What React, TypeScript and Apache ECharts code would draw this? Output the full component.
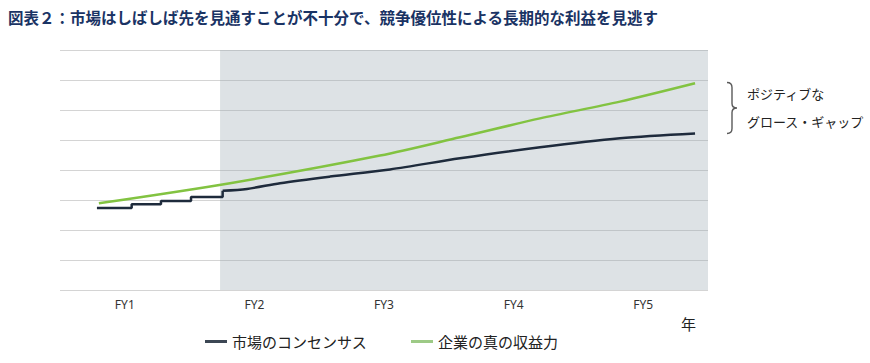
import React, { useEffect, useRef } from 'react';
import * as echarts from 'echarts';

const TITLE = '図表２：市場はしばしば先を見通すことが不十分で、競争優位性による長期的な利益を見逃す';
const categories = ['FY1', 'FY2', 'FY3', 'FY4', 'FY5'];
const seriesNames = ['市場のコンセンサス', '企業の真の収益力'];
const axisUnit = '年';
const noteLines = ['ポジティブな', 'グロース・ギャップ'];

// x in category units (0..5), y in grid units (0..8)
const consensusStepX = [0.285, 0.553, 0.553, 0.779, 0.779, 1.011, 1.011, 1.255, 1.255];
const consensusStepY = [2.73, 2.73, 2.86, 2.86, 2.97, 2.97, 3.1, 3.1, 3.31];
const consensusCurveX = [1.255, 1.443, 1.698, 2.083, 2.546, 3.086, 3.704, 4.321, 4.9];
const consensusCurveY = [3.31, 3.37, 3.56, 3.78, 4.02, 4.39, 4.76, 5.06, 5.22];
const earningsX = [0.3, 1.312, 2.469, 3.086, 3.704, 4.321, 4.9];
const earningsY = [2.89, 3.56, 4.48, 5.09, 5.72, 6.28, 6.89];
const shadeRange = [1.235, 5];

const BRACE_D = 'M0 0 Q5 0 5 5 L5 21 Q5 25.5 10 25.5 Q5 25.5 5 30 L5 46 Q5 51 0 51';
try {
  echarts.graphic.registerShape('brace', echarts.graphic.extendPath(BRACE_D, {}));
} catch (e) {}

const zip = (xs: number[], ys: number[]) => xs.map((x, i) => [x, ys[i]]);

const FONT = '"Noto Sans CJK JP", "Noto Sans", sans-serif';
const NAVY = '#1e2b3c';
const GREEN = '#82c341';

export default function App() {
  const ref = useRef<HTMLDivElement>(null);
  useEffect(() => {
    if (!ref.current) return;
    const chart = echarts.init(ref.current, null, { renderer: 'svg' });
    chart.setOption({
      animation: false,
      backgroundColor: '#ffffff',
      textStyle: { fontFamily: FONT },
      title: {
        text: TITLE,
        left: 8,
        top: 9,
        padding: 0,
        textStyle: { fontSize: 15.5, fontWeight: 'bold', color: '#1a3364', fontFamily: FONT },
      },
      grid: { left: 60, right: 162, top: 50, bottom: 73 },
      xAxis: {
        type: 'value',
        min: 0,
        max: 5,
        interval: 0.5,
        axisLine: { show: false },
        axisTick: { show: false },
        splitLine: { show: false },
        axisLabel: {
          margin: 8,
          fontSize: 12,
          color: '#333333',
          fontFamily: '"Noto Sans", sans-serif',
          showMinLabel: true,
          showMaxLabel: true,
          formatter: (v: number) => {
            const i = Math.round(v - 0.5);
            if (Math.abs(v - i - 0.5) < 1e-6 && categories[i]) return categories[i];
            return '';
          },
        },
      },
      yAxis: {
        type: 'value',
        min: 0,
        max: 8,
        interval: 1,
        axisLine: { show: false },
        axisTick: { show: false },
        axisLabel: { show: false },
        splitLine: { show: true, lineStyle: { color: '#d4d4d4', width: 1 } },
      },
      legend: {
        left: 200,
        top: 329,
        icon: 'rect',
        itemWidth: 22,
        itemHeight: 3,
        itemGap: 44,
        textStyle: { fontSize: 15, color: '#222', fontFamily: FONT },
        data: [
          { name: seriesNames[0], itemStyle: { color: '#3c4754' } },
          { name: seriesNames[1], itemStyle: { color: '#9dca86' } },
        ],
      },
      series: [
        {
          name: 'shade',
          type: 'line',
          data: [],
          silent: true,
          markArea: {
            silent: true,
            itemStyle: { color: 'rgba(150,165,175,0.32)' },
            data: [[{ xAxis: shadeRange[0], yAxis: 0 }, { xAxis: shadeRange[1], yAxis: 8 }]],
          },
        },
        {
          name: seriesNames[1],
          type: 'line',
          data: zip(earningsX, earningsY),
          smooth: 0.3,
          showSymbol: false,
          lineStyle: { color: GREEN, width: 2.5 },
          itemStyle: { color: GREEN },
        },
        {
          name: seriesNames[0],
          type: 'line',
          data: zip(consensusStepX, consensusStepY),
          showSymbol: false,
          lineStyle: { color: NAVY, width: 2.5 },
          itemStyle: { color: NAVY },
        },
        {
          name: seriesNames[0],
          type: 'line',
          data: zip(consensusCurveX, consensusCurveY),
          smooth: 0.3,
          showSymbol: false,
          lineStyle: { color: NAVY, width: 2.5 },
          itemStyle: { color: NAVY },
        },
      ],
      graphic: [
        {
          type: 'text',
          left: 681,
          top: 316,
          style: { text: axisUnit, fontSize: 15, fill: '#222', fontFamily: FONT },
        },
        {
          type: 'brace',
          x: 727,
          y: 82.5,
          style: { fill: 'none', stroke: '#5a5a5a', lineWidth: 1.4 },
        },
        {
          type: 'text',
          left: 747,
          top: 87,
          style: { text: noteLines[0], fontSize: 13, fill: '#222', fontFamily: FONT },
        },
        {
          type: 'text',
          left: 747,
          top: 115,
          style: { text: noteLines[1], fontSize: 13, fill: '#222', fontFamily: FONT },
        },
      ],
    });
    return () => chart.dispose();
  }, []);
  return <div ref={ref} style={{ position: 'fixed', left: 0, top: 0, width: 870, height: 363 }} />;
}
